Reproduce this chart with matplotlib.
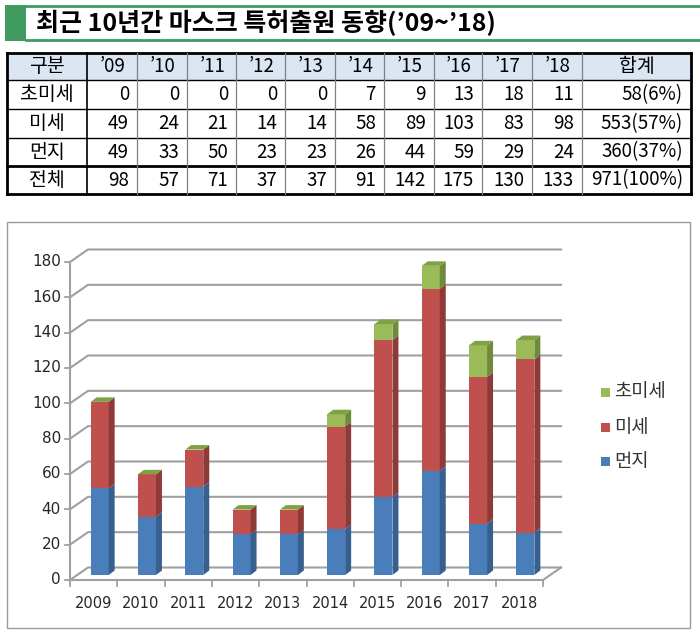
import numpy as np
import matplotlib.pyplot as plt
from matplotlib.patches import Polygon, Rectangle

plt.rcParams['font.family'] = ['Noto Sans CJK KR', 'DejaVu Sans']

# data
title = "최근 10년간 마스크 특허출원 동향(’09~’18)"
years = ['2009', '2010', '2011', '2012', '2013', '2014', '2015', '2016', '2017', '2018']
short_years = ['’09', '’10', '’11', '’12', '’13', '’14', '’15', '’16', '’17', '’18']
ultra = [0, 0, 0, 0, 0, 7, 9, 13, 18, 11]        # 초미세
fine = [49, 24, 21, 14, 14, 58, 89, 103, 83, 98]  # 미세
dust = [49, 33, 50, 23, 23, 26, 44, 59, 29, 24]   # 먼지
total = [98, 57, 71, 37, 37, 91, 142, 175, 130, 133]
row_names = ['초미세', '미세', '먼지', '전체']
row_sums = ['58(6%)', '553(57%)', '360(37%)', '971(100%)']
yticks = [0, 20, 40, 60, 80, 100, 120, 140, 160, 180]

green = '#3f9b5f'
c_blue, c_red, c_green = '#4a7ebb', '#c0504d', '#9bbb59'
s_blue, s_red, s_green = '#375f8f', '#8e3a38', '#6f8a3c'
grid_c = '#a0a0a0'

fig = plt.figure(figsize=(7, 6.36), dpi=100)
bg = fig.add_axes([0, 0, 1, 1])
bg.set_xlim(0, 700)
bg.set_ylim(636, 0)
bg.axis('off')

# title bar
bg.add_patch(Rectangle((5, 5), 21, 36, color=green, lw=0))
bg.plot([26, 699], [6, 6], color=green, lw=2)
bg.plot([26, 699], [40, 40], color=green, lw=2)
bg.text(36, 23, title, fontsize=18, fontweight='bold', ha='left', va='center', color='black')

# table
col_edges = [7, 87, 137, 187, 236, 285, 335, 384, 434, 482, 532, 582, 691]
row_edges = [53, 80, 109, 138, 166, 194]
bg.add_patch(Rectangle((7, 53), 684, 27, color='#dce6f2', lw=0))
for y in row_edges:
    lw = 2 if y in (53, 166, 194) else 1
    bg.plot([7, 691], [y, y], color='black', lw=lw)
for j, x in enumerate(col_edges):
    if j in (0, len(col_edges) - 1):
        bg.plot([x, x], [53, 194], color='black', lw=2)
    elif j == 1:
        bg.plot([x, x], [53, 194], color='black', lw=1.2)
    else:
        bg.plot([x, x], [53, 194], color='#808080', lw=0.9)

row_mid = [(row_edges[k] + row_edges[k + 1]) / 2 for k in range(5)]
bg.text((col_edges[0] + col_edges[1]) / 2, row_mid[0], '구분', fontsize=14, ha='center', va='center')
for j, h in enumerate(short_years):
    xc = (col_edges[j + 1] + col_edges[j + 2]) / 2
    bg.text(xc + 1, row_mid[0], h, fontsize=13.5, ha='center', va='center')
bg.text((col_edges[-2] + col_edges[-1]) / 2, row_mid[0], '합계', fontsize=14, ha='center', va='center')

table_rows = [ultra, fine, dust, total]
for r, (name, vals, s) in enumerate(zip(row_names, table_rows, row_sums)):
    ym = row_mid[r + 1]
    bg.text((col_edges[0] + col_edges[1]) / 2, ym, name, fontsize=14, ha='center', va='center')
    for j, v in enumerate(vals):
        bg.text(col_edges[j + 2] - 8, ym, str(v), fontsize=13.5, ha='right', va='center')
    bg.text(col_edges[-1] - 8, ym, s, fontsize=13.5, ha='right', va='center')

# chart frame
bg.add_patch(Rectangle((7, 222), 683, 406, fill=False, edgecolor='#9a9a9a', lw=1))

# chart axes (front plane)
L, R, Y0, Y180 = 70, 543, 580, 262
ax = fig.add_axes([L / 700, (636 - Y0) / 636, (R - L) / 700, (Y0 - Y180) / 636])
ax.set_xlim(0, 10)
ax.set_ylim(0, 180)
ax.axis('off')
kx = 10 / (R - L)
ky = 180 / (Y0 - Y180)

DX, DY = 18 * kx, 12.5 * ky      # wall depth
BX, BY = 6 * kx, 5 * ky          # bar front offset
SX, SY = 6 * kx, 4.5 * ky        # bar depth
bw = 18 * kx

# walls / gridlines
for v in yticks:
    ax.plot([0, DX, 10 + DX], [v, v + DY, v + DY], color=grid_c, lw=1.5,
            clip_on=False, zorder=1, solid_joinstyle='miter')
    ax.plot([-5 * kx, 0], [v, v], color=grid_c, lw=1.3, clip_on=False)
    ax.text(-9 * kx, v, str(v), fontsize=11, family='DejaVu Sans',
            ha='right', va='center', color='#262626')
ax.plot([0, 0], [0, 180], color=grid_c, lw=1.5, clip_on=False)
ax.plot([0, 10, 10 + DX], [0, 0, DY], color=grid_c, lw=1.5, clip_on=False)
for i in range(11):
    ax.plot([i, i], [0, -6 * ky], color=grid_c, lw=1.3, clip_on=False)

x = np.arange(len(years)) + 0.5
for xi, lab in zip(x, years):
    ax.text(xi, -23 * ky, lab, fontsize=10.5, family='DejaVu Sans',
            ha='center', va='center', color='#262626')

# stacked 3D-ish bars
series = [(dust, c_blue, s_blue), (fine, c_red, s_red), (ultra, c_green, s_green)]
bottom = np.zeros(len(years))
for vals, fc, sc in series:
    vals = np.array(vals, dtype=float)
    ax.bar(x + BX, vals, width=bw, bottom=bottom + BY, color=fc, zorder=3, clip_on=False)
    for xi, b, h in zip(x, bottom, vals):
        xr = xi + BX + bw / 2
        b0, t0 = b + BY, b + h + BY
        ax.add_patch(Polygon([(xr, b0), (xr + SX, b0 + SY), (xr + SX, t0 + SY), (xr, t0)],
                             closed=True, color=sc, lw=0, zorder=3, clip_on=False))
    bottom = bottom + vals

for xi, t in zip(x, bottom):
    xl = xi + BX - bw / 2
    xr = xi + BX + bw / 2
    t0 = t + BY
    ax.add_patch(Polygon([(xl, t0), (xr, t0), (xr + SX, t0 + SY), (xl + SX, t0 + SY)],
                         closed=True, color='#7fa143', lw=0, zorder=3, clip_on=False))

# legend
leg = [('초미세', c_green, 392), ('미세', c_red, 427), ('먼지', c_blue, 461)]
for name, col, y in leg:
    bg.add_patch(Rectangle((601, y - 4.5), 9, 9, color=col, lw=0))
    bg.text(614, y, name, fontsize=13.5, ha='left', va='center', color='#333333')

fig.savefig('out.png', dpi=100)
